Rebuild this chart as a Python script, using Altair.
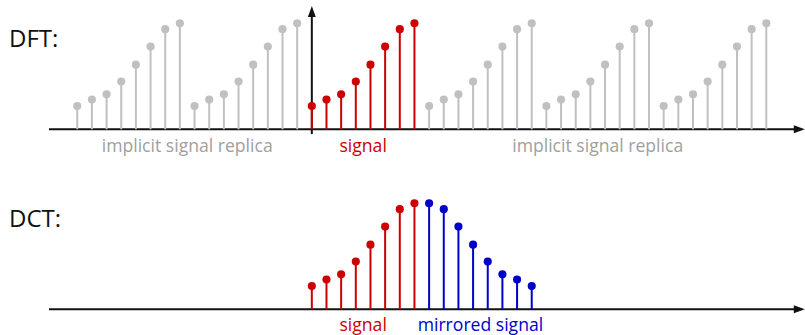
import altair as alt
import pandas as pd

# One period of the sampled signal (heights relative to its peak)
signal = [0.22, 0.28, 0.33, 0.45, 0.61, 0.78, 0.945, 1.0]
period = len(signal)

# Sample indices drawn in each row
dft_range = list(range(-16, 32))
dct_range = list(range(0, 2 * period))

# Labels under each block of samples
dft_labels = ["implicit signal replica", "signal", "implicit signal replica"]
dft_label_pos = [-8.5, 3.5, 19.5]
dft_label_role = ["replica", "signal", "replica"]
dct_labels = ["signal", "mirrored signal"]
dct_label_pos = [3.5, 11.5]
dct_label_role = ["signal", "mirrored"]

RED = "#cc0000"
BLUE = "#0000cc"
GREY = "#c0c0c0"
GREY_TEXT = "#a0a0a0"
INK = "#111111"
FONT = "Open Sans"

# Vertical placement of the two rows (baselines in y units)
DFT_BASE = 1.9406
DCT_BASE = 0.2425

W, H = 805, 335
X_DOMAIN = [-21.27, 33.64]
Y_DOMAIN = [0, 3.1604]
AXIS_START = -17.93
AXIS_END = 33.25

xs = alt.Scale(domain=X_DOMAIN)
ys = alt.Scale(domain=Y_DOMAIN)
color_scale = alt.Scale(domain=["replica", "signal", "mirrored"],
                        range=[GREY, RED, BLUE])
text_colors = {"replica": GREY_TEXT, "signal": RED, "mirrored": BLUE}

# Stem samples for both rows
dft_df = pd.DataFrame({
    "n": dft_range,
    "v": [signal[k % period] for k in dft_range],
    "role": ["signal" if 0 <= k < period else "replica" for k in dft_range],
    "base": DFT_BASE,
})
dct_df = pd.DataFrame({
    "n": dct_range,
    "v": signal + signal[::-1],
    "role": ["signal"] * period + ["mirrored"] * period,
    "base": DCT_BASE,
})
samples = pd.concat([dft_df, dct_df], ignore_index=True)

stem_base = alt.Chart(samples).transform_calculate(top="datum.base + datum.v").encode(
    x=alt.X("n:Q", scale=xs, axis=None),
    color=alt.Color("role:N", scale=color_scale, legend=None),
)
stems = stem_base.mark_rule(strokeWidth=2).encode(
    y=alt.Y("top:Q", scale=ys, axis=None),
    y2="base:Q",
)
dots = stem_base.mark_circle(size=66, opacity=1).encode(
    y=alt.Y("top:Q", scale=ys, axis=None),
)

# Horizontal axes with arrow heads
axes_df = pd.DataFrame({"x0": [AXIS_START] * 2, "x1": [AXIS_END] * 2,
                        "xl": [AXIS_END - 0.2] * 2, "y": [DFT_BASE, DCT_BASE]})
h_lines = alt.Chart(axes_df).mark_rule(color=INK, strokeWidth=2).encode(
    x=alt.X("x0:Q", scale=xs, axis=None), x2="xl:Q",
    y=alt.Y("y:Q", scale=ys, axis=None),
)
h_heads = alt.Chart(axes_df).mark_point(
    shape="M -1 -0.72 L 1 0 L -1 0.72 Z", size=121, filled=True,
    color=INK, opacity=1,
).encode(
    x=alt.X("x1:Q", scale=xs, axis=None),
    y=alt.Y("y:Q", scale=ys, axis=None),
)

# Vertical axis of the DFT row
vaxis_df = pd.DataFrame({"x": [0.0], "y0": [DFT_BASE - 0.045],
                         "y1": [DFT_BASE + 1.09], "tip": [DFT_BASE + 1.111]})
v_line = alt.Chart(vaxis_df).mark_rule(color=INK, strokeWidth=2).encode(
    x=alt.X("x:Q", scale=xs, axis=None),
    y=alt.Y("y0:Q", scale=ys, axis=None), y2="y1:Q",
)
v_head = alt.Chart(vaxis_df).mark_point(
    shape="M -0.72 1 L 0 -1 L 0.72 1 Z", size=121, filled=True,
    color=INK, opacity=1,
).encode(
    x=alt.X("x:Q", scale=xs, axis=None),
    y=alt.Y("tip:Q", scale=ys, axis=None),
)

# Block labels
label_roles = dft_label_role + dct_label_role
label_df = pd.DataFrame({
    "t": dft_labels + dct_labels,
    "n": dft_label_pos + dct_label_pos,
    "tc": [text_colors[r] for r in label_roles],
    "y": [DFT_BASE - 0.165] * 3 + [DCT_BASE - 0.155] * 2,
})
block_labels = alt.Chart(label_df).mark_text(
    font=FONT, fontSize=17.6, baseline="middle", align="center"
).encode(
    x=alt.X("n:Q", scale=xs, axis=None),
    y=alt.Y("y:Q", scale=ys, axis=None),
    text="t:N",
    color=alt.Color("tc:N", scale=None),
)

# Row captions
cap_df = pd.DataFrame({"t": ["DFT:", "DCT:"],
                       "y": [DFT_BASE + 0.843, DCT_BASE + 0.843]})
captions = alt.Chart(cap_df).mark_text(
    font=FONT, fontSize=24, align="left", baseline="middle", color=INK
).encode(
    x=alt.value(9),
    y=alt.Y("y:Q", scale=ys, axis=None),
    text="t:N",
)

chart = alt.layer(
    h_lines, h_heads, v_line, v_head, stems, dots, block_labels, captions
).properties(
    width=W, height=H, padding=0,
    autosize=alt.AutoSizeParams(type="none"),
    background="white",
).configure_view(stroke=None)

chart.save("out.html", embed_options={"renderer": "svg", "actions": False})
